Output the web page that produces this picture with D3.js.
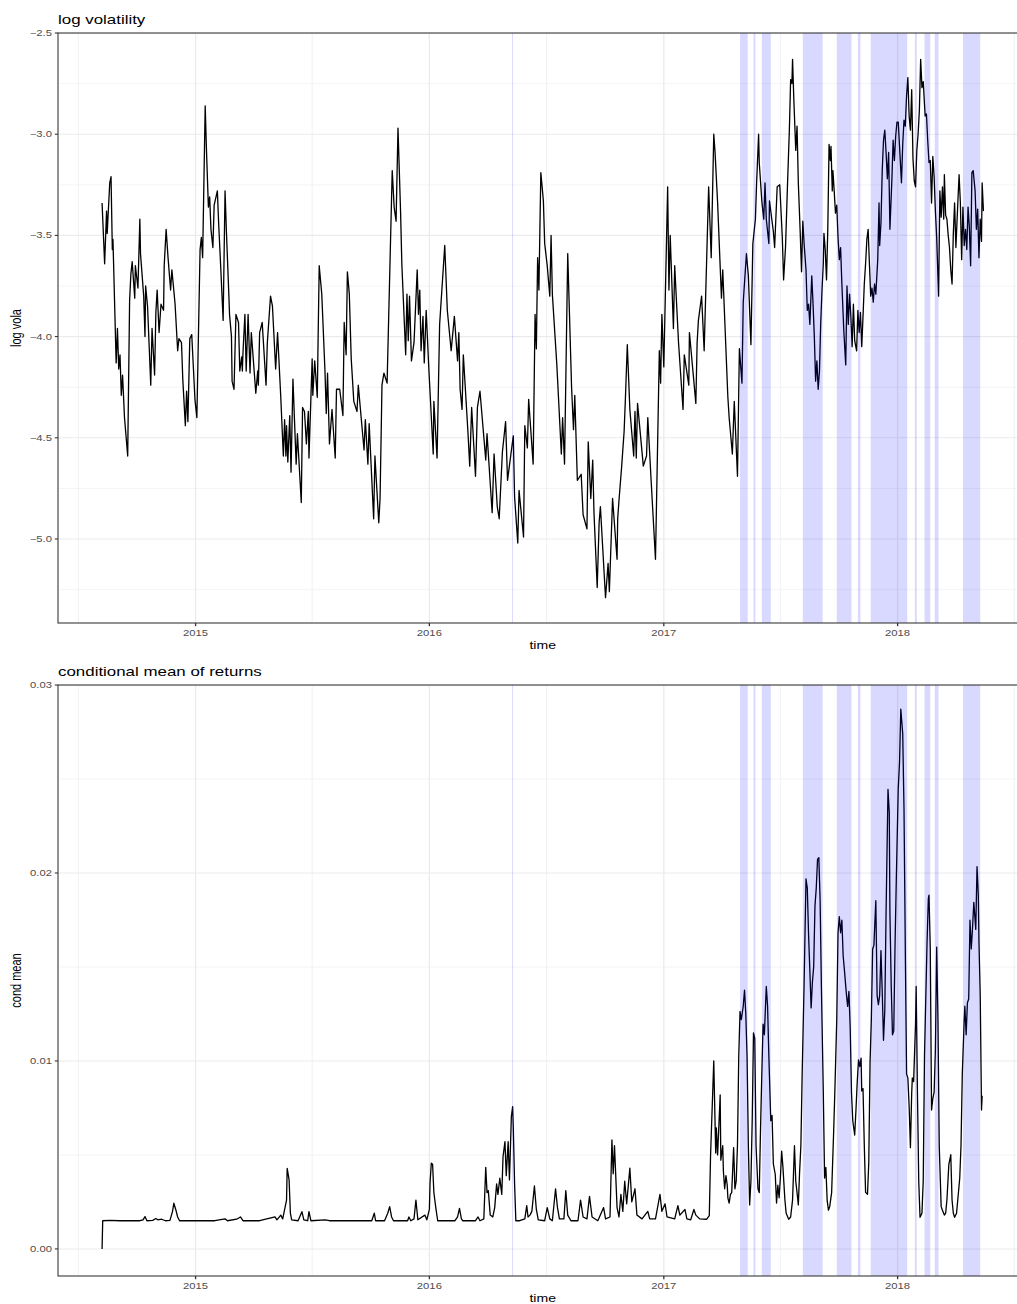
<!DOCTYPE html>
<html><head><meta charset="utf-8">
<script src="https://cdn.jsdelivr.net/npm/d3@7/dist/d3.min.js"></script>
<style>body{margin:0;background:#fff}svg{display:block;font-family:"Liberation Sans",Arial,Helvetica,sans-serif}</style>
</head><body><svg id="chart" width="1017" height="1304"></svg>
<script>
// time is in days since 2014-08-08
const START_UTC = Date.UTC(2014, 7, 8);

const logVolSeries = [
[0,-3.34],[4,-3.64],[7,-3.38],[8,-3.49],[12,-3.24],[14,-3.21],[16,-3.57],[17,-3.52],[22,-4.13],[24,-3.96],
[26,-4.16],[28,-4.09],[30,-4.29],[32,-4.19],[35,-4.40],[40,-4.59],[43,-3.82],[45,-3.69],[47,-3.63],[51,-3.81],
[52,-3.65],[56,-3.76],[59,-3.42],[60,-3.59],[65,-3.80],[67,-4.00],[68,-3.75],[71,-3.85],[76,-4.24],[78,-3.96],
[82,-4.19],[84,-3.88],[86,-3.77],[89,-3.98],[92,-3.84],[96,-3.87],[97,-3.65],[98,-3.59],[100,-3.47],[103,-3.61],
[107,-3.77],[109,-3.67],[114,-3.84],[118,-4.07],[120,-4.01],[124,-4.03],[126,-4.21],[130,-4.44],[132,-4.27],[134,-4.42],
[137,-4.01],[140,-3.99],[145,-4.31],[148,-4.40],[153,-3.57],[155,-3.51],[157,-3.61],[161,-2.86],[163,-3.08],[166,-3.36],
[168,-3.31],[170,-3.47],[173,-3.56],[175,-3.35],[180,-3.28],[182,-3.44],[185,-3.64],[189,-3.92],[192,-3.28],[194,-3.47],
[198,-3.80],[199,-3.89],[202,-4.00],[203,-4.22],[206,-4.26],[209,-3.89],[213,-3.93],[215,-4.17],[218,-4.10],[219,-4.17],
[220,-4.08],[223,-3.89],[225,-4.17],[228,-3.89],[231,-4.18],[233,-3.98],[240,-4.28],[243,-4.17],[244,-4.24],[246,-3.98],
[250,-3.93],[256,-4.24],[258,-4.03],[263,-3.80],[266,-3.85],[271,-4.16],[274,-3.98],[279,-4.30],[283,-4.59],[285,-4.41],
[287,-4.59],[288,-4.44],[290,-4.62],[293,-4.39],[295,-4.67],[298,-4.21],[303,-4.63],[305,-4.48],[311,-4.82],[313,-4.35],
[316,-4.37],[319,-4.53],[322,-4.37],[323,-4.60],[328,-4.11],[329,-4.29],[332,-4.12],[336,-4.30],[337,-4.07],[339,-3.65],
[343,-3.79],[348,-4.17],[350,-4.38],[352,-4.18],[355,-4.53],[359,-4.36],[364,-4.60],[366,-4.26],[371,-4.26],[376,-4.39],
[378,-3.93],[381,-4.09],[383,-3.68],[386,-3.79],[389,-4.11],[393,-4.32],[398,-4.37],[400,-4.24],[409,-4.56],[411,-4.41],
[415,-4.63],[417,-4.43],[424,-4.90],[426,-4.59],[432,-4.92],[434,-4.80],[437,-4.24],[440,-4.18],[445,-4.23],[453,-3.18],
[456,-3.36],[459,-3.43],[462,-2.97],[466,-3.38],[468,-3.64],[474,-4.09],[476,-3.79],[478,-4.02],[480,-3.80],[483,-4.12],
[487,-4.03],[492,-3.67],[494,-3.89],[496,-3.77],[498,-4.07],[501,-3.90],[503,-4.13],[506,-3.87],[510,-4.15],[517,-4.58],
[518,-4.32],[523,-4.60],[527,-3.94],[535,-3.55],[539,-3.87],[545,-4.07],[550,-3.90],[555,-4.12],[557,-3.98],[559,-4.26],
[562,-4.36],[564,-4.09],[571,-4.46],[574,-4.64],[577,-4.35],[583,-4.69],[586,-4.35],[590,-4.27],[599,-4.61],[601,-4.48],
[609,-4.87],[612,-4.58],[617,-4.84],[620,-4.90],[625,-4.57],[630,-4.42],[633,-4.71],[642,-4.49],[644,-4.79],[649,-5.02],
[651,-4.76],[658,-4.99],[660,-4.44],[664,-4.55],[666,-4.31],[673,-4.63],[676,-3.89],[678,-4.06],[680,-3.61],[682,-3.77],
[685,-3.19],[689,-3.33],[691,-3.54],[695,-3.65],[699,-3.80],[701,-3.50],[703,-3.79],[710,-4.14],[717,-4.58],[719,-4.40],
[722,-4.63],[727,-3.59],[733,-4.25],[736,-4.46],[738,-4.29],[742,-4.71],[748,-4.68],[751,-4.88],[757,-4.95],[759,-4.52],
[763,-4.80],[766,-4.61],[768,-4.87],[773,-5.24],[776,-4.92],[778,-4.84],[786,-5.29],[790,-5.12],[792,-5.26],[797,-4.80],
[804,-5.10],[805,-4.90],[807,-4.81],[811,-4.65],[815,-4.47],[817,-4.31],[820,-4.04],[824,-4.36],[830,-4.59],[832,-4.37],
[834,-4.60],[836,-4.33],[845,-4.64],[850,-4.59],[852,-4.40],[857,-4.70],[864,-5.10],[870,-4.07],[872,-4.23],[874,-3.89],
[877,-4.15],[883,-3.26],[885,-3.77],[887,-3.50],[892,-3.96],[894,-3.65],[900,-4.03],[907,-4.36],[909,-4.09],[916,-4.24],
[917,-3.98],[927,-4.33],[929,-4.03],[931,-3.92],[936,-3.80],[940,-4.07],[947,-3.26],[951,-3.61],[955,-3.00],[957,-3.09],
[961,-3.34],[967,-3.81],[969,-3.67],[977,-4.30],[979,-4.40],[984,-4.58],[987,-4.32],[992,-4.69],[995,-4.06],[999,-4.23],
[1001,-3.83],[1006,-3.59],[1009,-3.70],[1013,-4.04],[1016,-3.54],[1020,-3.42],[1022,-3.23],[1025,-3.00],[1026,-3.14],[1030,-3.33],
[1033,-3.42],[1035,-3.24],[1037,-3.42],[1041,-3.54],[1042,-3.33],[1048,-3.48],[1050,-3.56],[1054,-3.26],[1058,-3.25],[1062,-3.51],
[1064,-3.72],[1067,-3.56],[1070,-3.26],[1073,-2.98],[1075,-2.73],[1077,-2.75],[1078,-2.63],[1080,-2.83],[1083,-3.08],[1085,-2.96],
[1087,-3.24],[1090,-3.49],[1092,-3.68],[1094,-3.43],[1096,-3.54],[1099,-3.67],[1101,-3.87],[1103,-3.84],[1105,-3.94],[1108,-3.70],
[1110,-3.84],[1112,-4.00],[1114,-4.22],[1116,-4.12],[1118,-4.26],[1120,-4.17],[1122,-3.93],[1124,-3.77],[1126,-3.64],[1127,-3.49],
[1129,-3.57],[1131,-3.72],[1133,-3.47],[1135,-3.05],[1137,-3.13],[1138,-3.06],[1140,-3.28],[1141,-3.18],[1143,-3.28],[1145,-3.39],
[1147,-3.35],[1149,-3.51],[1151,-3.62],[1153,-3.56],[1155,-3.74],[1158,-3.97],[1161,-4.14],[1163,-3.75],[1165,-3.94],[1167,-3.79],
[1169,-3.90],[1171,-4.05],[1173,-3.84],[1175,-4.02],[1178,-4.07],[1180,-3.87],[1182,-3.98],[1184,-3.88],[1186,-4.05],[1188,-3.90],
[1190,-3.74],[1192,-3.64],[1194,-3.52],[1196,-3.47],[1198,-3.64],[1200,-3.80],[1202,-3.76],[1204,-3.83],[1206,-3.74],[1208,-3.79],
[1211,-3.62],[1213,-3.34],[1214,-3.55],[1216,-3.44],[1218,-3.18],[1220,-3.03],[1222,-2.98],[1224,-3.09],[1226,-3.22],[1228,-3.09],
[1230,-3.47],[1233,-3.23],[1235,-3.03],[1237,-3.13],[1239,-3.01],[1241,-2.94],[1243,-2.94],[1245,-3.06],[1248,-3.24],[1250,-3.05],
[1252,-2.93],[1254,-2.96],[1256,-2.81],[1258,-2.72],[1260,-2.91],[1262,-2.98],[1264,-2.78],[1266,-3.12],[1268,-3.23],[1270,-3.26],
[1272,-3.08],[1274,-3.00],[1276,-2.88],[1278,-2.63],[1280,-2.77],[1282,-2.74],[1285,-2.91],[1287,-2.90],[1289,-3.03],[1291,-3.14],
[1293,-3.13],[1295,-3.34],[1297,-3.11],[1299,-3.21],[1301,-3.38],[1303,-3.51],[1306,-3.80],[1308,-3.28],[1310,-3.41],[1312,-3.26],
[1314,-3.42],[1315,-3.20],[1317,-3.40],[1319,-3.42],[1321,-3.50],[1323,-3.56],[1325,-3.67],[1327,-3.74],[1329,-3.49],[1331,-3.34],
[1333,-3.56],[1336,-3.34],[1338,-3.20],[1340,-3.34],[1342,-3.62],[1344,-3.36],[1346,-3.55],[1348,-3.47],[1350,-3.57],[1352,-3.36],
[1354,-3.46],[1356,-3.65],[1358,-3.19],[1360,-3.18],[1363,-3.28],[1365,-3.47],[1367,-3.37],[1369,-3.61],[1371,-3.42],[1373,-3.53],
[1374,-3.24],[1376,-3.38]
];

const condMeanSeries = [
[0,0],[1,0.0015],[12,0.00152],[28,0.0015],[59,0.0015],[64,0.00155],[67,0.00172],[70,0.0015],[79,0.00152],[84,0.00162],
[87,0.00155],[93,0.00158],[99,0.0015],[106,0.00152],[110,0.0020],[112,0.00243],[115,0.0021],[118,0.0017],[121,0.0015],[137,0.0015],
[153,0.0015],[176,0.0015],[192,0.0016],[196,0.0015],[210,0.00158],[216,0.0017],[220,0.0015],[246,0.0015],[270,0.0017],[273,0.00155],
[279,0.0018],[282,0.0016],[288,0.0026],[289,0.00429],[292,0.00367],[294,0.0019],[296,0.00155],[306,0.0015],[312,0.00198],[315,0.00155],
[321,0.0015],[323,0.00198],[326,0.0015],[348,0.00155],[355,0.0015],[379,0.0015],[402,0.0015],[421,0.0015],[425,0.0019],[427,0.0015],
[441,0.0015],[446,0.0019],[449,0.00225],[452,0.0017],[455,0.0015],[477,0.0015],[479,0.0017],[482,0.0015],[487,0.0016],[490,0.0026],
[493,0.00155],[504,0.0018],[507,0.00155],[511,0.0021],[512,0.0035],[514,0.00456],[516,0.0045],[518,0.0030],[521,0.0022],[524,0.0015],
[551,0.0015],[555,0.0017],[558,0.00216],[561,0.0016],[563,0.0015],[583,0.0015],[587,0.0017],[590,0.0015],[596,0.0016],[599,0.00434],
[601,0.0030],[603,0.0031],[606,0.0018],[610,0.0017],[613,0.0022],[616,0.00346],[618,0.0029],[621,0.00376],[624,0.0029],[626,0.00491],
[629,0.00571],[631,0.0039],[634,0.00571],[636,0.00367],[639,0.00704],[641,0.00757],[642,0.0065],[644,0.0035],[646,0.0015],[652,0.0015],
[660,0.0016],[663,0.0023],[665,0.0017],[668,0.0018],[671,0.0020],[675,0.00335],[678,0.0021],[681,0.00155],[691,0.0015],[695,0.0022],
[699,0.0016],[703,0.0015],[708,0.0032],[711,0.0022],[714,0.0016],[721,0.0016],[724,0.0031],[727,0.0018],[732,0.0015],[743,0.0015],
[747,0.0026],[751,0.0017],[757,0.0016],[761,0.0028],[765,0.0017],[774,0.0015],[783,0.0022],[786,0.0016],[793,0.0017],[796,0.0058],
[798,0.0040],[800,0.0055],[804,0.0022],[807,0.0017],[810,0.0029],[813,0.0020],[816,0.0036],[819,0.0024],[824,0.0043],[827,0.0025],
[832,0.0032],[835,0.0018],[843,0.0016],[852,0.0020],[855,0.0016],[864,0.0016],[871,0.0029],[874,0.0020],[879,0.0024],[882,0.0017],
[894,0.0016],[899,0.0023],[902,0.0018],[910,0.0021],[913,0.0016],[919,0.00155],[924,0.0021],[927,0.0018],[933,0.0016],[944,0.00158],
[948,0.00177],[950,0.0050],[955,0.0100],[956,0.00834],[958,0.0051],[959,0.00644],[961,0.0050],[965,0.00819],[966,0.00472],[969,0.00549],
[970,0.00415],[972,0.0032],[974,0.0039],[976,0.0034],[977,0.00272],[979,0.00244],[981,0.0029],[983,0.0030],[986,0.00539],[988,0.0032],
[990,0.0036],[992,0.0055],[994,0.01025],[996,0.01263],[998,0.0122],[1001,0.01291],[1003,0.01377],[1005,0.0125],[1007,0.0102],[1009,0.00549],
[1011,0.00234],[1013,0.0036],[1015,0.00682],[1017,0.01149],[1019,0.0112],[1021,0.0055],[1024,0.0032],[1026,0.0030],[1028,0.0064],[1030,0.0093],
[1032,0.01196],[1034,0.0114],[1037,0.01396],[1039,0.01291],[1041,0.01025],[1044,0.00682],[1046,0.0071],[1048,0.00453],[1051,0.00396],[1053,0.00244],
[1055,0.00339],[1057,0.00272],[1059,0.0038],[1061,0.0052],[1063,0.00434],[1066,0.00263],[1068,0.0019],[1072,0.00158],[1075,0.0017],[1078,0.0026],
[1081,0.00549],[1083,0.0036],[1085,0.0030],[1087,0.00234],[1089,0.0041],[1091,0.00549],[1093,0.0093],[1096,0.01406],[1099,0.01968],[1101,0.0192],
[1103,0.01672],[1105,0.0148],[1107,0.01282],[1109,0.0142],[1111,0.01501],[1113,0.01825],[1115,0.0192],[1117,0.02072],[1119,0.02082],[1121,0.0186],
[1123,0.0140],[1126,0.00834],[1128,0.00377],[1130,0.00434],[1132,0.0026],[1134,0.00206],[1136,0.00225],[1139,0.0030],[1142,0.00606],[1144,0.00834],
[1147,0.0122],[1149,0.01682],[1151,0.01768],[1153,0.01682],[1155,0.01749],[1157,0.0156],[1159,0.01482],[1162,0.01358],[1164,0.0129],[1166,0.0137],
[1168,0.01177],[1170,0.00834],[1172,0.00682],[1175,0.00606],[1177,0.0074],[1179,0.00891],[1181,0.01006],[1183,0.0097],[1185,0.01015],[1186,0.0084],
[1188,0.00853],[1190,0.0055],[1192,0.00301],[1195,0.00291],[1197,0.0046],[1199,0.00996],[1201,0.0122],[1203,0.01596],[1205,0.01615],[1208,0.01853],
[1210,0.01349],[1212,0.0130],[1214,0.01349],[1216,0.01587],[1218,0.0137],[1220,0.0111],[1222,0.0127],[1224,0.0179],[1227,0.02444],[1229,0.0232],
[1230,0.0179],[1232,0.01406],[1234,0.01139],[1236,0.0116],[1238,0.01615],[1240,0.0197],[1243,0.0245],[1245,0.02587],[1247,0.02872],[1250,0.0274],
[1252,0.02339],[1254,0.0160],[1256,0.0093],[1258,0.0091],[1260,0.0076],[1262,0.00539],[1264,0.0083],[1265,0.0091],[1267,0.0089],[1270,0.01196],
[1271,0.01396],[1273,0.0083],[1275,0.0036],[1277,0.00168],[1280,0.0019],[1282,0.0036],[1284,0.0103],[1288,0.01634],[1290,0.01863],[1291,0.01882],
[1293,0.0160],[1295,0.00739],[1297,0.0080],[1299,0.00834],[1301,0.0106],[1303,0.01606],[1305,0.0122],[1307,0.0055],[1310,0.00225],[1312,0.00206],
[1315,0.0018],[1317,0.0019],[1319,0.0026],[1322,0.0045],[1325,0.00501],[1327,0.0026],[1329,0.0019],[1331,0.00168],[1334,0.0019],[1337,0.0030],
[1339,0.00377],[1341,0.0055],[1343,0.0093],[1346,0.0122],[1347,0.01291],[1349,0.01139],[1351,0.0131],[1353,0.0133],[1355,0.01749],[1357,0.01596],
[1359,0.0171],[1361,0.01844],[1364,0.0170],[1366,0.02034],[1368,0.0188],[1369,0.01634],[1371,0.01349],[1373,0.00739],[1374,0.00815]
];

// shaded regime periods (days since 2014-08-08)
const bandStartDays = [640, 996, 1017, 1030, 1094, 1147, 1180, 1200, 1269, 1284, 1300, 1344];
const bandEndDays   = [641.5, 1008, 1020, 1044, 1125, 1170, 1184, 1257, 1272, 1293, 1306, 1371];

const xTickYears = [2015, 2016, 2017, 2018];
const xMinorYears = [2014, 2015, 2016, 2017, 2018];
const volTicks = [-5.0, -4.5, -4.0, -3.5, -3.0, -2.5];
const volTickLabels = ["\u22125.0", "\u22124.5", "\u22124.0", "\u22123.5", "\u22123.0", "\u22122.5"];
const meanTicks = [0, 0.01, 0.02, 0.03];
const meanTickLabels = ["0.00", "0.01", "0.02", "0.03"];

const svg = d3.select("#chart");
const S = 1.28; // horizontal text stretch of the original rendering
const dayDate = d => new Date(START_UTC + d * 86400000);
const LEFT = 58, RIGHT = 1027.5;
const x = d3.scaleUtc().domain([dayDate(-68.8), dayDate(1444.8)]).range([LEFT, RIGHT]);

function midpoints(arr){ const o=[]; for(let i=0;i<arr.length-1;i++) o.push((arr[i]+arr[i+1])/2); return o; }

function panel(cfg, idx){
  const {top, bottom} = cfg;
  const y = d3.scaleLinear().domain(cfg.domain).range([bottom, top]);
  const g = svg.append("g");
  const clipId = "clip" + idx;
  svg.append("clipPath").attr("id", clipId).append("rect")
    .attr("x", LEFT).attr("y", top).attr("width", RIGHT - LEFT).attr("height", bottom - top);
  const inner = g.append("g").attr("clip-path", `url(#${clipId})`);

  // minor grid
  const yMinor = midpoints(cfg.ticks).concat(cfg.extraMinor);
  inner.selectAll(".ymin").data(yMinor).join("line")
    .attr("x1", LEFT).attr("x2", RIGHT).attr("y1", d => y(d)).attr("y2", d => y(d))
    .attr("stroke", "#ebebeb").attr("stroke-width", 0.55);
  inner.selectAll(".xmin").data(xMinorYears).join("line")
    .attr("x1", d => x(new Date(Date.UTC(d, 6, 2)))).attr("x2", d => x(new Date(Date.UTC(d, 6, 2))))
    .attr("y1", top).attr("y2", bottom).attr("stroke", "#ebebeb").attr("stroke-width", 0.7);
  // major grid
  inner.selectAll(".ymaj").data(cfg.ticks).join("line")
    .attr("x1", LEFT).attr("x2", RIGHT).attr("y1", d => y(d)).attr("y2", d => y(d))
    .attr("stroke", "#ebebeb").attr("stroke-width", 1.07);
  inner.selectAll(".xmaj").data(xTickYears).join("line")
    .attr("x1", d => x(new Date(Date.UTC(d, 0, 1)))).attr("x2", d => x(new Date(Date.UTC(d, 0, 1))))
    .attr("y1", top).attr("y2", bottom).attr("stroke", "#ebebeb").attr("stroke-width", 1.3);

  // series line
  const line = d3.line().x(d => x(dayDate(d[0]))).y(d => y(d[1]));
  inner.append("path").datum(cfg.series).attr("d", line)
    .attr("fill", "none").attr("stroke", "#000").attr("stroke-width", 1.3).attr("stroke-linejoin", "round");

  // shaded bands
  inner.selectAll(".band").data(d3.range(bandStartDays.length)).join("rect")
    .attr("x", i => x(dayDate(bandStartDays[i])))
    .attr("width", i => x(dayDate(bandEndDays[i])) - x(dayDate(bandStartDays[i])))
    .attr("y", top).attr("height", bottom - top)
    .attr("fill", "#0000ff").attr("fill-opacity", 0.15);

  // border
  g.append("rect").attr("x", LEFT).attr("y", top).attr("width", RIGHT - LEFT).attr("height", bottom - top)
    .attr("fill", "none").attr("stroke", "#333333").attr("stroke-width", 1.07);

  // y ticks
  g.selectAll(".yt").data(cfg.ticks).join("line")
    .attr("x1", LEFT - 3.2).attr("x2", LEFT).attr("y1", d => y(d)).attr("y2", d => y(d))
    .attr("stroke", "#333333").attr("stroke-width", 1.07);
  g.selectAll(".yl").data(cfg.ticks).join("text")
    .attr("transform", d => `translate(${LEFT - 6},${y(d)}) scale(${S},1)`)
    .attr("dy", "0.35em").attr("text-anchor", "end")
    .attr("font-size", 8.8).attr("fill", "#4d4d4d")
    .text((d, i) => cfg.tickLabels[i]);
  // x ticks
  g.selectAll(".xt").data(xTickYears).join("line")
    .attr("x1", d => x(new Date(Date.UTC(d, 0, 1)))).attr("x2", d => x(new Date(Date.UTC(d, 0, 1))))
    .attr("y1", bottom).attr("y2", bottom + 3.2).attr("stroke", "#333333").attr("stroke-width", 1.3);
  g.selectAll(".xl").data(xTickYears).join("text")
    .attr("transform", d => `translate(${x(new Date(Date.UTC(d, 0, 1)))},${bottom + 12.5}) scale(${S},1)`)
    .attr("text-anchor", "middle").attr("font-size", 8.8).attr("fill", "#4d4d4d")
    .text(d => String(d));

  // axis titles
  g.append("text").attr("transform", `translate(${(LEFT + RIGHT) / 2},${bottom + 25.5}) scale(${S},1)`)
    .attr("text-anchor", "middle").attr("font-size", 11).attr("fill", "#000").text("time");
  g.append("text").attr("transform", `translate(21,${(top + bottom) / 2}) scale(${S},1) rotate(-90)`)
    .attr("text-anchor", "middle").attr("font-size", 11).attr("fill", "#000").text(cfg.yTitle);
  // panel title
  g.append("text").attr("transform", `translate(${LEFT},${top - 9.5}) scale(${S},1)`)
    .attr("font-size", 13.2).attr("fill", "#000").text(cfg.title);
}

panel({top: 33, bottom: 623, domain: [-5.415, -2.5], ticks: volTicks, tickLabels: volTickLabels,
       extraMinor: [-5.25], series: logVolSeries, title: "log volatility", yTitle: "log vola"}, 0);
panel({top: 685, bottom: 1276, domain: [-0.00144, 0.03], ticks: meanTicks, tickLabels: meanTickLabels,
       extraMinor: [], series: condMeanSeries, title: "conditional mean of returns", yTitle: "cond mean"}, 1);
</script></body></html>
